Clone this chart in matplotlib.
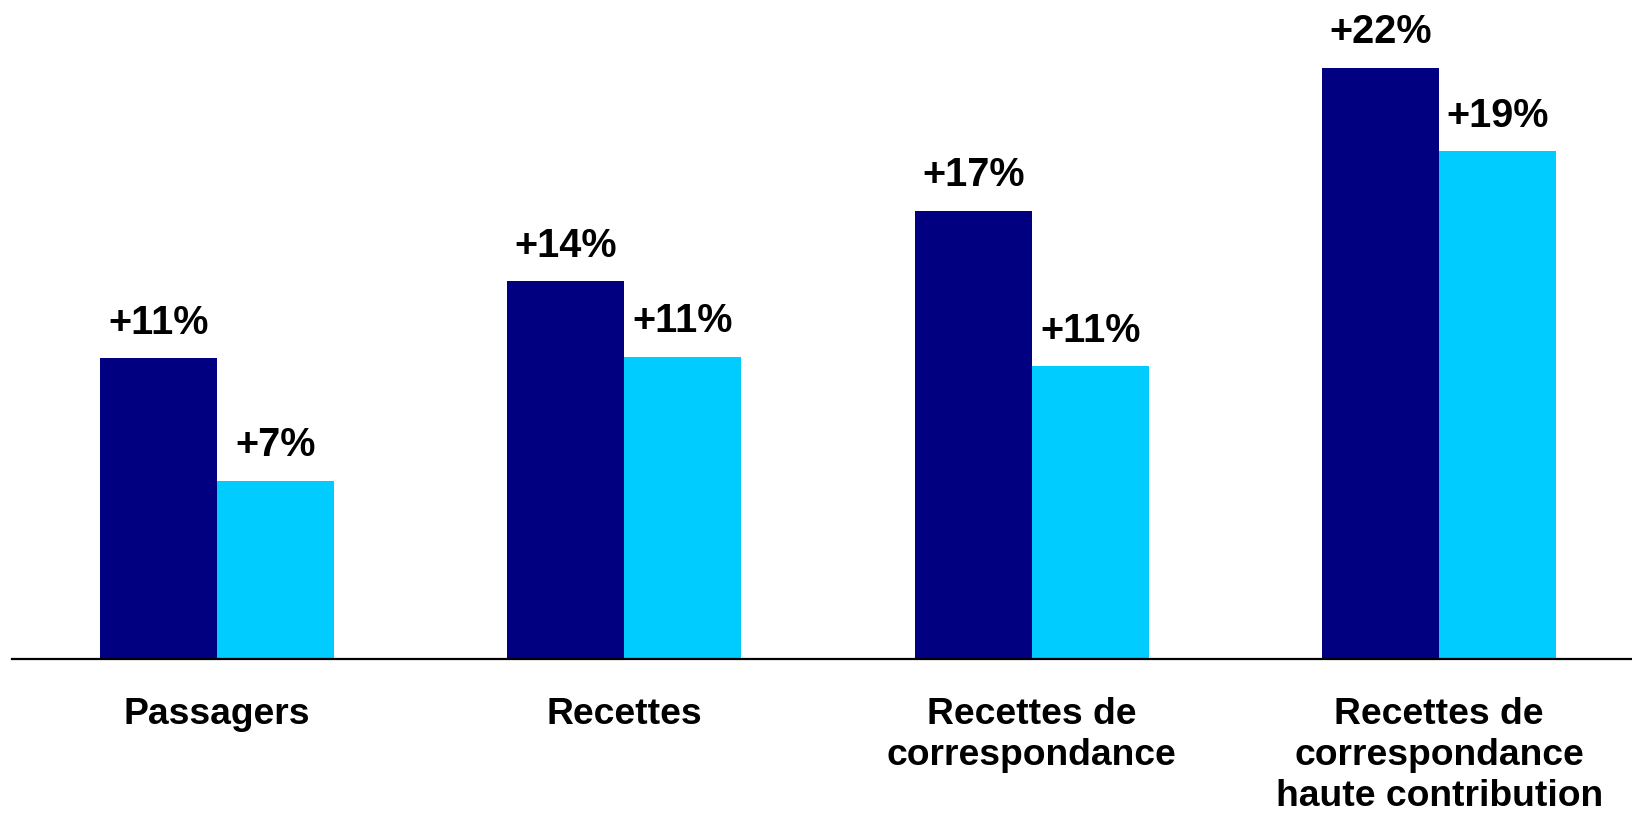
import matplotlib
matplotlib.use("Agg")
import matplotlib.pyplot as plt
import numpy as np

categories = ["Passagers", "Recettes", "Recettes de\ncorrespondance",
              "Recettes de\ncorrespondance\nhaute contribution"]
series_dark = [11.15, 14.0, 16.6, 21.9]
series_light = [6.6, 11.2, 10.85, 18.8]
labels_dark = ["+11%", "+14%", "+17%", "+22%"]
labels_light = ["+7%", "+11%", "+11%", "+19%"]

plt.rcParams['font.family'] = ['Liberation Sans', 'DejaVu Sans']

fig = plt.figure(figsize=(16.33, 8.14), dpi=100)
ax = fig.add_axes([12/1633, 1 - 659/814, (1633-12)/1633, 659/814])

x = np.arange(len(categories))
w = 0.287
b1 = ax.bar(x - w/2, series_dark, width=w, color="#000080")
b2 = ax.bar(x + w/2, series_light, width=w, color="#00CCFF")

for bars, labs in ((b1, labels_dark), (b2, labels_light)):
    for r, lab in zip(bars, labs):
        ax.annotate(lab, (r.get_x() + r.get_width()/2, r.get_height()),
                    xytext=(0, 17.5), textcoords="offset points",
                    ha="center", va="baseline", fontsize=28.5,
                    fontweight="bold", color="black")

ax.set_xlim(-0.503, 3.476)
ax.set_ylim(0, 659/27)
ax.set_xticks(x)
ax.set_xticklabels(categories, fontsize=26.8, fontweight="bold", linespacing=1.24)
ax.tick_params(axis="x", length=0, pad=27)
ax.set_yticks([])
for s in ("top", "right", "left"):
    ax.spines[s].set_visible(False)
ax.spines["bottom"].set_linewidth(1.6)
ax.spines["bottom"].set_color("black")

fig.savefig("out.png", dpi=100)
